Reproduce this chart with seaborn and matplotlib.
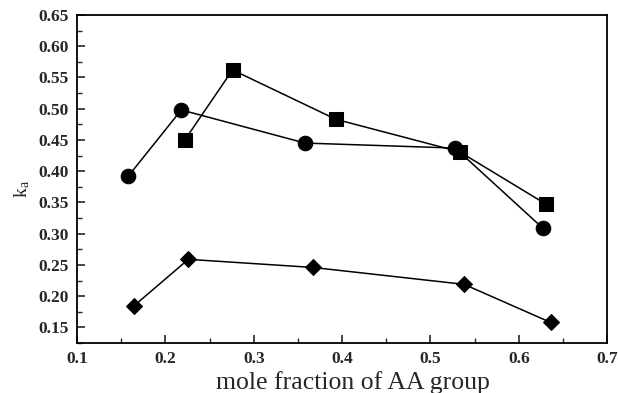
import numpy as np
import pandas as pd
import matplotlib
matplotlib.use("Agg")
import matplotlib.pyplot as plt
from matplotlib.ticker import MultipleLocator
import seaborn as sns

# Apparent rate constant k_a versus mole fraction of AA group
circle_x = [0.158, 0.218, 0.358, 0.528, 0.627]
circle_y = [0.392, 0.498, 0.445, 0.437, 0.309]
square_x = [0.222, 0.276, 0.393, 0.533, 0.631]
square_y = [0.450, 0.562, 0.483, 0.431, 0.347]
diamond_x = [0.164, 0.226, 0.367, 0.538, 0.636]
diamond_y = [0.184, 0.259, 0.246, 0.219, 0.158]

x_ticks = [0.1, 0.2, 0.3, 0.4, 0.5, 0.6, 0.7]
y_ticks = [0.15, 0.20, 0.25, 0.30, 0.35, 0.40, 0.45, 0.50, 0.55, 0.60, 0.65]

frames = []
for name, xs, ys in [("circle", circle_x, circle_y),
                     ("square", square_x, square_y),
                     ("diamond", diamond_x, diamond_y)]:
    frames.append(pd.DataFrame({"x": xs, "y": ys, "series": name}))
df = pd.concat(frames, ignore_index=True)

sns.set_style("ticks")
plt.rcParams["font.family"] = ["Liberation Serif", "DejaVu Serif"]
plt.rcParams["mathtext.fontset"] = "stix"

fig = plt.figure(figsize=(6.18, 3.93), dpi=100)
ax = fig.add_axes([0.1246, 0.127, 0.858, 0.835])

marker_map = {"circle": "o", "square": "s", "diamond": "D"}
size_map = {"circle": 10.5, "square": 9.5, "diamond": 8}
for name, sub in df.groupby("series", sort=False):
    sns.lineplot(data=sub, x="x", y="y", ax=ax, color="black", lw=1.1,
                 marker=marker_map[name], markersize=size_map[name],
                 markeredgecolor="black", markerfacecolor="black",
                 estimator=None, sort=False, legend=False)

ax.set_xlim(0.1, 0.7)
ax.set_ylim(0.125, 0.65)
ax.set_xticks(x_ticks)
ax.set_xticklabels([f"{v:.1f}" for v in x_ticks])
ax.set_yticks(y_ticks)
ax.set_yticklabels([f"{v:.2f}" for v in y_ticks])
ax.xaxis.set_minor_locator(MultipleLocator(0.05))
ax.yaxis.set_minor_locator(MultipleLocator(0.025))
ax.tick_params(axis="both", which="major", direction="in", length=6, width=1.2,
               labelsize=12.5, top=False, right=False, pad=6)
ax.tick_params(axis="both", which="minor", direction="in", length=3.5, width=1.0,
               top=False, right=False)
for lbl in ax.get_xticklabels() + ax.get_yticklabels():
    lbl.set_fontweight("bold")
for s in ax.spines.values():
    s.set_linewidth(1.3)
    s.set_color("black")

ax.set_xlabel("mole fraction of AA group", fontsize=18.5, labelpad=2)
ax.xaxis.set_label_coords(0.52, -0.085)
ax.set_ylabel(r"k$_\mathregular{a}$", fontsize=14, labelpad=8)
ax.yaxis.set_label_coords(-0.085, 0.47)

fig.savefig("out.png", dpi=100)
